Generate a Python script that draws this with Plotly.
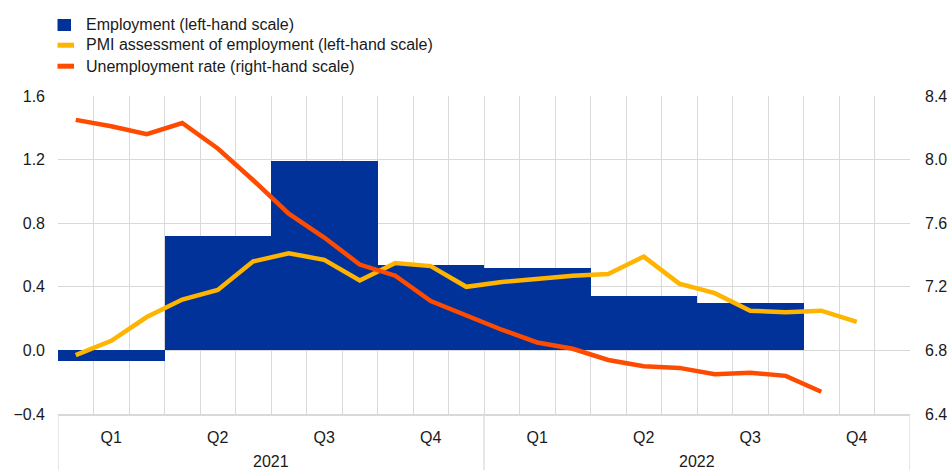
import plotly.graph_objects as go

# ---- data ----
months = ["Jan 2021", "Feb 2021", "Mar 2021", "Apr 2021", "May 2021", "Jun 2021",
          "Jul 2021", "Aug 2021", "Sep 2021", "Oct 2021", "Nov 2021", "Dec 2021",
          "Jan 2022", "Feb 2022", "Mar 2022", "Apr 2022", "May 2022", "Jun 2022",
          "Jul 2022", "Aug 2022", "Sep 2022", "Oct 2022", "Nov 2022", "Dec 2022"]
quarter_labels = ["Q1", "Q2", "Q3", "Q4", "Q1", "Q2", "Q3", "Q4"]
year_labels = ["2021", "2022"]
series_names = ["Employment (left-hand scale)",
                "PMI assessment of employment (left-hand scale)",
                "Unemployment rate (right-hand scale)"]

employment = [-0.065, 0.72, 1.19, 0.54, 0.52, 0.34, 0.30]  # quarterly, % q-o-q
pmi_employment = [-0.03, 0.06, 0.21, 0.32, 0.38, 0.56, 0.61, 0.57, 0.44, 0.55, 0.53, 0.40,
                  0.43, 0.45, 0.47, 0.48, 0.59, 0.42, 0.36, 0.25, 0.24, 0.25, 0.18]
unemployment = [8.25, 8.21, 8.16, 8.23, 8.07, 7.87, 7.66, 7.51, 7.34, 7.27, 7.11, 7.02,
                6.93, 6.85, 6.81, 6.74, 6.70, 6.69, 6.65, 6.66, 6.64, 6.54]

BLUE = "#003299"
YELLOW = "#FFB400"
ORANGE = "#FF4B00"
GRID = "#d9d9d9"
TXT = "#1a1a1a"
FONT = "Liberation Sans, Arial, sans-serif"
FS = 16

W, H = 947, 470
ML, MR, MT, MB = 58, 37, 96, 56
PW, PH = W - ML - MR, H - MT - MB
px = lambda v: (v - ML) / PW          # pixel -> paper x
py = lambda v: (H - MB - v) / PH      # pixel -> paper y

# positions on a month-index axis (month i spans [i, i+1])
x_month = lambda i: i + 0.5
x_quarter = lambda q: 3 * q + 1.5

fig = go.Figure()

fig.add_trace(go.Bar(
    x=[x_quarter(q) for q in range(len(employment))], y=employment, width=3,
    marker=dict(color=BLUE, line=dict(width=0)), name=series_names[0],
    showlegend=False, hovertext=quarter_labels[:len(employment)]))

fig.add_trace(go.Scatter(
    x=[x_month(i) for i in range(len(pmi_employment))], y=pmi_employment,
    mode="lines", line=dict(color=YELLOW, width=4.5), showlegend=False,
    text=months[:len(pmi_employment)], name=series_names[1]))

fig.add_trace(go.Scatter(
    x=[x_month(i) for i in range(len(unemployment))], y=unemployment, yaxis="y2",
    mode="lines", line=dict(color=ORANGE, width=4.5), showlegend=False,
    text=months[:len(unemployment)], name=series_names[2]))

quarter_ticks = [x_quarter(q) for q in range(8)]

fig.update_layout(
    width=W, height=H,
    margin=dict(l=ML, r=MR, t=MT, b=MB, autoexpand=False),
    paper_bgcolor="white", plot_bgcolor="white",
    font=dict(family=FONT, size=FS, color=TXT),
    bargap=0,
    showlegend=False,
    xaxis=dict(
        range=[0, 24], tickmode="array", tickvals=quarter_ticks, ticktext=quarter_labels,
        showgrid=False, zeroline=False, showline=True, linecolor=GRID, linewidth=2,
        ticks="", automargin=False,
        ticklabelstandoff=8,
        minor=dict(tickmode="linear", tick0=0, dtick=1, showgrid=True,
                   gridcolor=GRID, gridwidth=1, ticks=""),
        tickfont=dict(family=FONT, size=FS, color=TXT)),
    yaxis=dict(
        range=[-0.4, 1.6], tickmode="linear", tick0=-0.4, dtick=0.4, tickformat=".1f",
        showgrid=True, gridcolor=GRID, gridwidth=1, zeroline=False, showline=False,
        automargin=False,
        ticks="", ticklabelstandoff=12, tickfont=dict(family=FONT, size=FS, color=TXT)),
    yaxis2=dict(
        range=[6.4, 8.4], tickmode="linear", tick0=6.4, dtick=0.4, tickformat=".1f",
        overlaying="y", side="right", showgrid=False, zeroline=False, showline=False,
        automargin=False,
        ticks="", ticklabelstandoff=14, tickfont=dict(family=FONT, size=FS, color=TXT)),
)

# year separators extending below the axis (only below the plot area)
for xv in [0, 12, 24]:
    fig.add_shape(type="line", xref="x", yref="paper", x0=xv, x1=xv, y0=-0.18, y1=0,
                  line=dict(color=GRID, width=1.3), layer="below")

# year labels
for k, yr in enumerate(year_labels):
    fig.add_annotation(x=12 * k + 6, y=-0.148, xref="x", yref="paper", text=yr,
                       showarrow=False, yanchor="middle",
                       font=dict(family=FONT, size=FS, color=TXT))

# ---- legend (drawn as key swatches + labels, as in the reference) ----
fig.add_shape(type="rect", xref="paper", yref="paper",
              x0=px(57.5), x1=px(71), y0=py(31), y1=py(19),
              fillcolor=BLUE, line=dict(width=0))
for ypix, col in [(45.2, YELLOW), (66.2, ORANGE)]:
    fig.add_shape(type="line", xref="paper", yref="paper",
                  x0=px(57.5), x1=px(74), y0=py(ypix), y1=py(ypix),
                  line=dict(color=col, width=5))
for name, ypix in zip(series_names, [24.2, 44.6, 66.0]):
    fig.add_annotation(x=px(84), y=py(ypix), xref="paper", yref="paper", text=name,
                       showarrow=False, xanchor="left", yanchor="middle",
                       font=dict(family=FONT, size=FS, color=TXT))

fig.write_html("out.html", config={"displayModeBar": False},
               post_script="document.body.style.margin='0';document.body.style.overflow='hidden';")
